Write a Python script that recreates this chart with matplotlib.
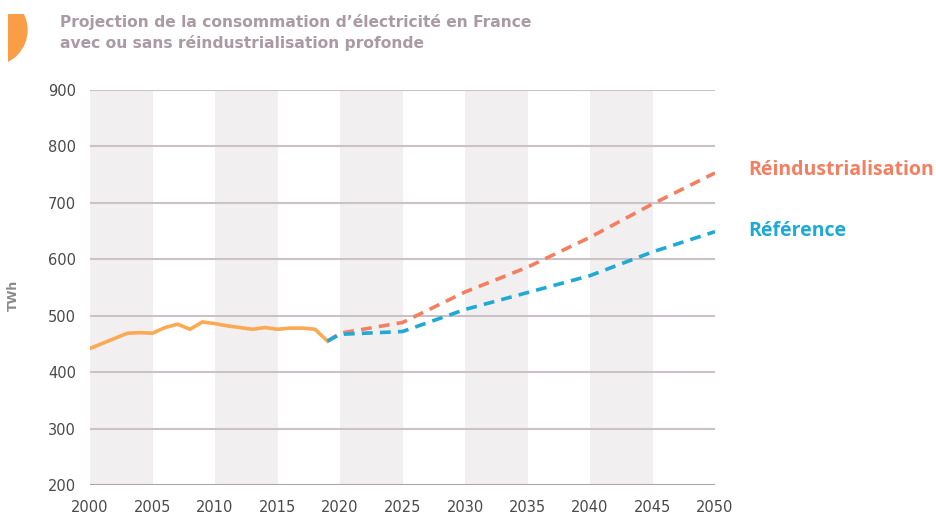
import numpy as np
import matplotlib.pyplot as plt
from matplotlib.patches import Circle, Rectangle

#-------------------------------------------------------------------------------
# Projection de la consommation d'electricite en France
#-------------------------------------------------------------------------------

hist_years = [2000, 2001, 2002, 2003, 2004, 2005, 2006, 2007, 2008, 2009,
              2010, 2011, 2012, 2013, 2014, 2015, 2016, 2017, 2018, 2019]
hist_twh = [442, 451, 460, 469, 470, 469, 479, 485, 476, 489,
            486, 482, 479, 476, 479, 476, 478, 478, 476, 455]

proj_years = [2019, 2020, 2025, 2030, 2035, 2040, 2045, 2050]
reindus_twh = [455, 469, 488, 542, 586, 639, 698, 753]
reference_twh = [455, 467, 472, 511, 541, 571, 613, 649]

band_starts = [2000, 2010, 2020, 2030, 2040]
x_ticks = list(range(2000, 2051, 5))
y_ticks = list(range(200, 901, 100))

title = "Projection de la consommation d\u2019électricité en France\navec ou sans réindustrialisation profonde"

c_hist = '#fba953'
c_reindus = '#f47f60'
c_ref = '#1fa9d4'
c_grid = '#cbc2c8'
c_band = '#f2eff1'
c_text = '#4a4a4a'

fig = plt.figure(figsize=(9.37, 5.15), dpi=100)
ax = fig.add_axes([90/937, 30/515, 625/937, 395/515])

for b in band_starts:
    ax.axvspan(b, b + 5, color=c_band, lw=0, zorder=0)

for y in y_ticks[1:]:
    ax.axhline(y, color=c_grid, lw=1.5, zorder=1)
ax.axhline(200, color='#a9a5a7', lw=2.2, zorder=1)

ax.plot(hist_years, hist_twh, color=c_hist, lw=2.6, zorder=3,
        solid_joinstyle='miter')
ax.plot(proj_years, reindus_twh, color=c_reindus, lw=2.6, ls=(0, (3, 2)), zorder=3)
ax.plot(proj_years, reference_twh, color=c_ref, lw=2.6, ls=(0, (3, 2)), zorder=4)

ax.set_xlim(2000, 2050)
ax.set_ylim(200, 900)
ax.set_xticks(x_ticks)
ax.set_yticks(y_ticks)
ax.tick_params(length=0, labelsize=10.5, colors=c_text)
ax.tick_params(axis='x', pad=11)
ax.tick_params(axis='y', pad=10)
for lab in ax.get_xticklabels() + ax.get_yticklabels():
    lab.set_family(['Liberation Sans Narrow', 'DejaVu Sans'])
for s in ax.spines.values():
    s.set_visible(False)
ax.set_facecolor('white')

ax.set_ylabel('TWh', color='#8a8a8a', fontsize=9, fontweight='bold')
ax.yaxis.set_label_coords(-70/625, 0.48)

# series labels to the right of the chart
ax.annotate('Réindustrialisation', xy=(1, 0), xycoords='axes fraction',
            xytext=(748, 515 - 170), textcoords='figure pixels',
            color=c_reindus, fontsize=14, fontweight='bold', va='center',
            family='Open Sans')
ax.annotate('Référence', xy=(1, 0), xycoords='axes fraction',
            xytext=(748, 515 - 231), textcoords='figure pixels',
            color=c_ref, fontsize=14, fontweight='bold', va='center',
            family='Open Sans')

fig.text(60/937, 1 - 14/515, title, color='#a99aa4', fontsize=11.2,
         fontweight='bold', va='top', ha='left', linespacing=1.35)

# orange section badge, cropped at the page edge
clip = Rectangle((8, 515 - 66), 40, 52, transform=None)
badge = Circle((-8, 515 - 30), 35, transform=None, color='#f99e47', zorder=5)
fig.patches.append(badge)
badge.set_clip_path(clip)

fig.savefig('out.png', dpi=100)
plt.close(fig)
